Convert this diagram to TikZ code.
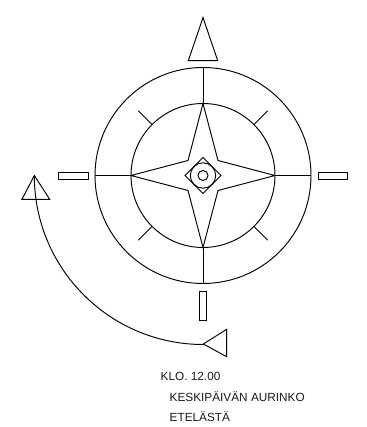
\documentclass[tikz,border=0pt]{standalone}
\usepackage{fontspec}
\setmainfont{Liberation Sans}
\tikzset{lin/.style={line width=0.95pt,line join=miter,black},
lab/.style={anchor=base west,inner sep=0pt,font=\fontsize{11.8}{13}\selectfont,text=black!90}}
\begin{document}
\begin{tikzpicture}[x=1pt,y=-1pt]
\useasboundingbox (0,0) rectangle (366,427);
\coordinate (c) at (203,175.5);
\begin{scope}[lin]
\draw (c) circle[radius=108];
\draw (c) circle[radius=72];
\draw (203,68)--(203,103.5);
\draw (203,247.5)--(203,283);
\draw (95,175.5)--(131,175.5);
\draw (275,175.5)--(311,175.5);
\foreach \a in {45,135,225,315}{\draw (c)++(\a:72)--++(\a:19.5);}
\draw (203,103.5)--(218,160.5)--(275,175.5)--(218,190.5)--(203,247.5)--(188,190.5)--(131,175.5)--(188,160.5)--cycle;
\draw[fill=white] (203,157.5)--(221,175.5)--(203,193.5)--(185,175.5)--cycle;
\draw (c) circle[radius=12.7];
\draw (c) circle[radius=5];
\draw (203,17.5)--(217.7,60.7)--(188.3,60.7)--cycle;
\draw (199.3,291) rectangle (206.7,320);
\draw (58.7,172) rectangle (88,179.3);
\draw (318,172) rectangle (347.5,179.3);
\draw (34.3,175.5)--(49.7,199.3)--(22,199.3)--cycle;
\draw (203.3,344)--(226.7,329.3)--(226.7,356.7)--cycle;
\coordinate (arcA) at (34.3,175.5);
\draw (arcA) arc[start angle=180,end angle=90,radius=169];
\end{scope}
\node[lab] (t1) at (160.5,380.5) {KLO. 12.00};
\node[lab] (t2) at (169.5,401.5) {KESKIPÄIVÄN AURINKO};
\node[lab] (t3) at (169.5,421.5) {ETELÄSTÄ};
\end{tikzpicture}
\end{document}
